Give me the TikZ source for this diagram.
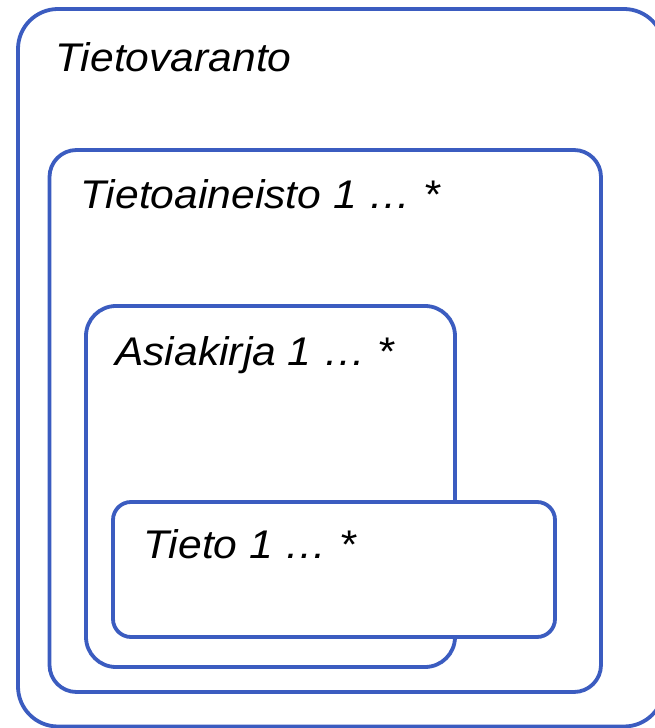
\documentclass[tikz,border=0pt]{standalone}
\usepackage{fontspec}
\setmainfont{Liberation Sans}
\definecolor{boxblue}{RGB}{59,92,192}
\newcommand{\wide}[1]{\scalebox{1.065}[1]{#1}}
\begin{document}
\begin{tikzpicture}[x=1pt,y=1pt,
  box/.style={draw=boxblue,line width=3.8pt,fill=white},
  lbl/.style={anchor=base west,inner sep=0pt,font=\fontsize{40}{48}\selectfont\itshape}]
\useasboundingbox (0,0) rectangle (654,728);
\draw[box,rounded corners=40pt] (18,1.5) rectangle (664,719);
\draw[box,rounded corners=27pt] (49.5,36) rectangle (601,578);
\draw[box,rounded corners=30pt] (86,61) rectangle (455,422);
\draw[box,rounded corners=18pt] (113,91) rectangle (555,226);
\node[lbl] (varanto) at (55,656) {\wide{Tietovaranto}};
\node[lbl] (aineisto) at (80,519) {\wide{Tietoaineisto 1 … *}};
\node[lbl] (asiakirja) at (115,362) {\wide{Asiakirja 1 … *}};
\node[lbl] (tieto) at (143,169) {\wide{Tieto 1 … *}};
\end{tikzpicture}
\end{document}
